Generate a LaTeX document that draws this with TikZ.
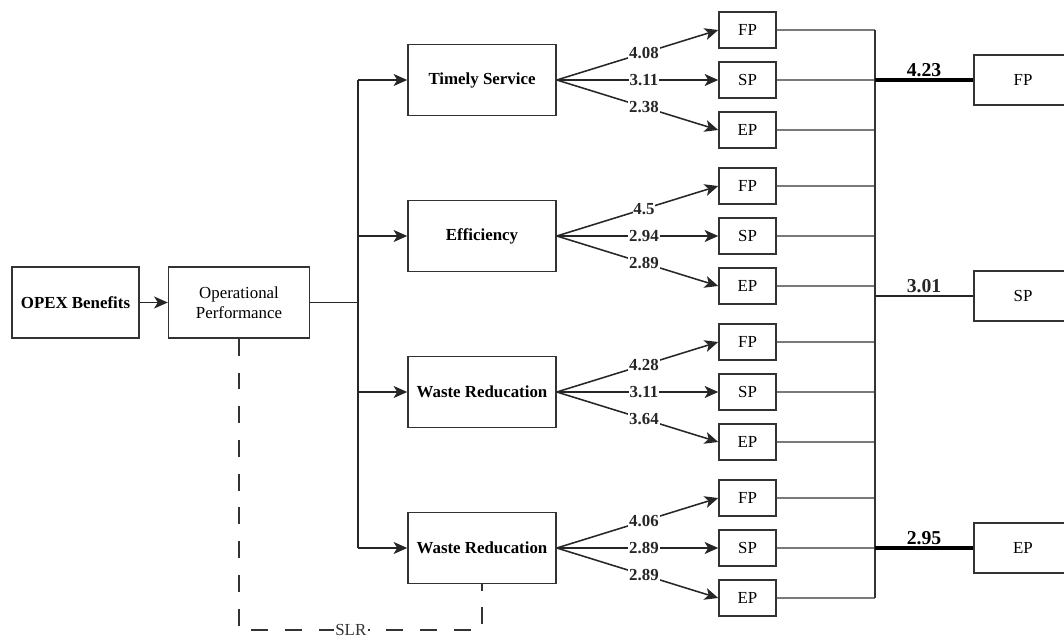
\documentclass[tikz,border=0pt]{standalone}
\usepackage{fontspec}
\setmainfont{Liberation Serif}
\usetikzlibrary{positioning,arrows.meta}
\definecolor{BoxLine}{HTML}{333333}
\definecolor{LinkGrey}{HTML}{7A7A7A}

\begin{document}
\begin{tikzpicture}[
    box/.style={
      rectangle, draw=BoxLine, line width=1.1pt, fill=white,
      align=center, inner sep=2pt,
      font=\fontsize{12}{14}\selectfont
    },
    mainbox/.style={box, minimum width=3.7cm, minimum height=1.775cm,
      font=\fontsize{12}{14}\selectfont\bfseries},
    smallbox/.style={box, minimum width=1.425cm, minimum height=0.9cm},
    outbox/.style={box, minimum width=2.45cm, minimum height=1.25cm},
    arrow/.style={-{Stealth[length=3.4mm,width=3mm,inset=0.9mm]}, line width=1.1pt, black!85},
    link/.style={line width=1.1pt, LinkGrey},
    wlbl/.style={fill=white, inner sep=0.6pt, pos=0.54,
      font=\fontsize{12}{14}\selectfont\bfseries},
    olbl/.style={midway, above, inner sep=1.5pt,
      font=\fontsize{14}{16}\selectfont\bfseries}
  ]
  \clip (0,0) rectangle (26.6,-16.05);

  % left part
  \node[box, font=\fontsize{12}{14}\selectfont\bfseries,
    minimum width=3.175cm, minimum height=1.775cm] (opex) at (1.8875,-7.5625) {OPEX Benefits};
  \node[box, minimum width=3.525cm, minimum height=1.775cm,
    right=0.7cm of opex] (op) {Operational\\Performance};
  \coordinate (trunk) at (8.95,0);

  % dimensions
  \node[mainbox] (ts) at (12.05,-2) {Timely Service};
  \node[mainbox] (eff) at (12.05,-5.9) {Efficiency};
  \node[mainbox] (wr1) at (12.05,-9.8) {Waste Reducation};
  \node[mainbox] (wr2) at (12.05,-13.7) {Waste Reducation};

  % small boxes
  \node[smallbox] (fp1) at (18.6875,-0.75) {FP};
  \node[smallbox] (sp1) at (18.6875,-2) {SP};
  \node[smallbox] (ep1) at (18.6875,-3.25) {EP};
  \node[smallbox] (fp2) at (18.6875,-4.65) {FP};
  \node[smallbox] (sp2) at (18.6875,-5.9) {SP};
  \node[smallbox] (ep2) at (18.6875,-7.15) {EP};
  \node[smallbox] (fp3) at (18.6875,-8.55) {FP};
  \node[smallbox] (sp3) at (18.6875,-9.8) {SP};
  \node[smallbox] (ep3) at (18.6875,-11.05) {EP};
  \node[smallbox] (fp4) at (18.6875,-12.45) {FP};
  \node[smallbox] (sp4) at (18.6875,-13.7) {SP};
  \node[smallbox] (ep4) at (18.6875,-14.95) {EP};
  \coordinate (col) at (21.875,0);

  % outcome boxes
  \node[outbox] (rfp) at (25.575,-2) {FP};
  \node[outbox] (rsp) at (25.575,-7.4) {SP};
  \node[outbox] (rep) at (25.575,-13.7) {EP};

  % trunk
  \draw[arrow] (opex.east) -- (op.west);
  \draw[line width=1.1pt, black!85] (op.east) -- (op.east -| trunk);
  \draw[line width=1.1pt, black!85] (ts.west -| trunk) -- (wr2.west -| trunk);
  \draw[arrow] (ts.west -| trunk) -- (ts.west);
  \draw[arrow] (eff.west -| trunk) -- (eff.west);
  \draw[arrow] (wr1.west -| trunk) -- (wr1.west);
  \draw[arrow] (wr2.west -| trunk) -- (wr2.west);

  % weights
  \draw[arrow] (ts.east) -- node[wlbl] {4.08} (fp1.west);
  \draw[arrow] (ts.east) -- node[wlbl] {3.11} (sp1.west);
  \draw[arrow] (ts.east) -- node[wlbl] {2.38} (ep1.west);
  \draw[arrow] (eff.east) -- node[wlbl] {4.5} (fp2.west);
  \draw[arrow] (eff.east) -- node[wlbl] {2.94} (sp2.west);
  \draw[arrow] (eff.east) -- node[wlbl] {2.89} (ep2.west);
  \draw[arrow] (wr1.east) -- node[wlbl] {4.28} (fp3.west);
  \draw[arrow] (wr1.east) -- node[wlbl] {3.11} (sp3.west);
  \draw[arrow] (wr1.east) -- node[wlbl] {3.64} (ep3.west);
  \draw[arrow] (wr2.east) -- node[wlbl] {4.06} (fp4.west);
  \draw[arrow] (wr2.east) -- node[wlbl] {2.89} (sp4.west);
  \draw[arrow] (wr2.east) -- node[wlbl] {2.89} (ep4.west);

  % collector
  \draw[link] (fp1.east) -- (fp1.east -| col);
  \draw[link] (sp1.east) -- (sp1.east -| col);
  \draw[link] (ep1.east) -- (ep1.east -| col);
  \draw[link] (fp2.east) -- (fp2.east -| col);
  \draw[link] (sp2.east) -- (sp2.east -| col);
  \draw[link] (ep2.east) -- (ep2.east -| col);
  \draw[link] (fp3.east) -- (fp3.east -| col);
  \draw[link] (sp3.east) -- (sp3.east -| col);
  \draw[link] (ep3.east) -- (ep3.east -| col);
  \draw[link] (fp4.east) -- (fp4.east -| col);
  \draw[link] (sp4.east) -- (sp4.east -| col);
  \draw[link] (ep4.east) -- (ep4.east -| col);
  \draw[line width=1.1pt, BoxLine] (fp1.east -| col) -- (ep4.east -| col);

  \draw[line width=2.2pt, black] (rfp.west -| col) -- node[olbl] {4.23} (rfp.west);
  \draw[line width=1.1pt, black!85] (rsp.west -| col) -- node[olbl] {3.01} (rsp.west);
  \draw[line width=2.2pt, black] (rep.west -| col) -- node[olbl] {2.95} (rep.west);

  % SLR link
  \coordinate (slr) at (0,-15.75);
  \draw[line width=1pt, BoxLine, dash pattern=on 12pt off 12pt]
    (op.south) -- (op.south |- slr) -- node[pos=0.46, fill=white, inner sep=1pt,
      font=\fontsize{12}{14}\selectfont] {SLR}
    (wr2.south |- slr) -- (wr2.south);
\end{tikzpicture}
\end{document}
